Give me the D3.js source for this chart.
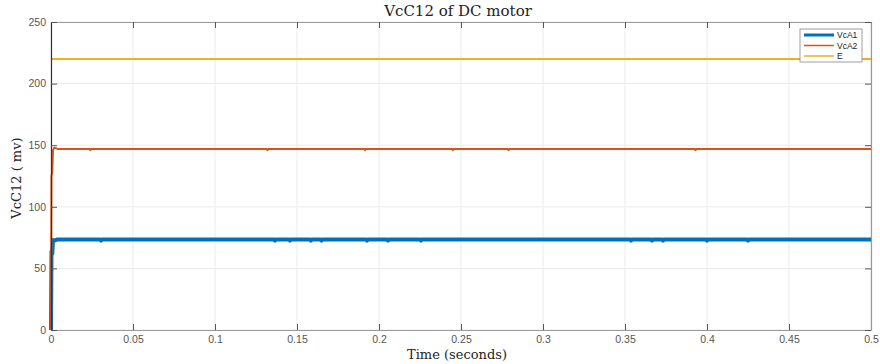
<!DOCTYPE html>
<html><head><meta charset="utf-8">
<script src="https://cdn.jsdelivr.net/npm/d3@7"></script>
<style>body{margin:0;background:#fff}svg{display:block}</style>
</head><body>
<script>
// ---- data ----
const timeA1 = [0, 0.0003, 0.0008, 0.0012, 0.002, 0.004, 0.0300, 0.0305, 0.0310, 0.1361, 0.1366, 0.1371, 0.1452, 0.1457, 0.1462, 0.1580, 0.1585, 0.1590, 0.1645, 0.1650, 0.1655, 0.1922, 0.1927, 0.1932, 0.2050, 0.2055, 0.2060, 0.2251, 0.2256, 0.2261, 0.3532, 0.3537, 0.3542, 0.3660, 0.3665, 0.3670, 0.3727, 0.3732, 0.3737, 0.3995, 0.4000, 0.4005, 0.4245, 0.4250, 0.4255, 0.5];
const vcA1  = [0, 64, 62, 73, 72.5, 73.5, 73.5, 72.5, 73.5, 73.5, 72.5, 73.5, 73.5, 72.5, 73.5, 73.5, 72.5, 73.5, 73.5, 72.5, 73.5, 73.5, 72.5, 73.5, 73.5, 72.5, 73.5, 73.5, 72.5, 73.5, 73.5, 72.5, 73.5, 73.5, 72.5, 73.5, 73.5, 72.5, 73.5, 73.5, 72.5, 73.5, 73.5, 72.5, 73.5, 73.5];
const timeA2 = [0, 0.0003, 0.0008, 0.0012, 0.002, 0.004, 0.0235, 0.0240, 0.0245, 0.1315, 0.1320, 0.1325, 0.1910, 0.1915, 0.1920, 0.2445, 0.2450, 0.2455, 0.2785, 0.2790, 0.2795, 0.3925, 0.3930, 0.3935, 0.5];
const vcA2  = [0, 125, 128, 146, 148, 147, 147, 146, 147, 147, 146, 147, 147, 146, 147, 147, 146, 147, 147, 146, 147, 147, 146, 147, 147];
const timeE = [0, 0.5];
const valE  = [220, 220];
const xTicks = [0, 0.05, 0.1, 0.15, 0.2, 0.25, 0.3, 0.35, 0.4, 0.45, 0.5];
const yTicks = [0, 50, 100, 150, 200, 250];
const seriesNames = ["VcA1", "VcA2", "E"];
const seriesColors = ["#0072BD", "#D95319", "#EDB120"];

const W = 880, H = 364;
const m = {left: 51, right: 9, top: 22, bottom: 34};
const svg = d3.select("body").append("svg").attr("width", W).attr("height", H);
const x = d3.scaleLinear().domain([0, 0.5]).range([m.left, W - m.right]);
const y = d3.scaleLinear().domain([0, 250]).range([H - m.bottom, m.top]);

// grid
const g = svg.append("g");
g.selectAll(".gx").data(xTicks).enter().append("line")
  .attr("x1", d => x(d)).attr("x2", d => x(d)).attr("y1", y(0)).attr("y2", y(250))
  .attr("stroke", "#ebebeb").attr("stroke-width", 1);
g.selectAll(".gy").data(yTicks).enter().append("line")
  .attr("y1", d => y(d)).attr("y2", d => y(d)).attr("x1", x(0)).attr("x2", x(0.5))
  .attr("stroke", "#ebebeb").attr("stroke-width", 1);

// series (drawn in legend order, later on top)
const series = [
  {t: timeA1, v: vcA1, w: 4},
  {t: timeA2, v: vcA2, w: 2},
  {t: timeE, v: valE, w: 2}
];
const line = d3.line().x(d => x(d[0])).y(d => y(d[1]));
series.forEach((s, i) => {
  svg.append("path").datum(s.t.map((t, k) => [t, s.v[k]]))
    .attr("d", line).attr("fill", "none")
    .attr("stroke", seriesColors[i]).attr("stroke-width", s.w)
    .attr("stroke-linejoin", "round");
});

// axes
const axisColor = "#555";
function styleAxis(sel) {
  sel.selectAll("path").attr("stroke", "#999").attr("stroke-width", 1.2);
  sel.selectAll("line").attr("stroke", "#555");
  sel.selectAll("text").attr("fill", axisColor)
    .style("font-family", "'Liberation Sans', Arial, sans-serif").style("font-size", "10.5px");
}
const xb = svg.append("g").attr("transform", `translate(0,${y(0)})`)
  .call(d3.axisBottom(x).tickValues(xTicks).tickFormat(d3.format("~g")).tickSizeInner(-6).tickSizeOuter(0).tickPadding(6));
styleAxis(xb);
const xt = svg.append("g").attr("transform", `translate(0,${y(250)})`)
  .call(d3.axisTop(x).tickValues(xTicks).tickFormat("").tickSizeInner(-6).tickSizeOuter(0));
styleAxis(xt);
const yl = svg.append("g").attr("transform", `translate(${x(0)},0)`)
  .call(d3.axisLeft(y).tickValues(yTicks).tickSizeInner(-6).tickSizeOuter(0).tickPadding(5));
styleAxis(yl);
yl.select("path").attr("stroke", "#333");
const yr = svg.append("g").attr("transform", `translate(${x(0.5)},0)`)
  .call(d3.axisRight(y).tickValues(yTicks).tickFormat("").tickSizeInner(-6).tickSizeOuter(0));
styleAxis(yr);

// titles
const serif = "'DejaVu Serif', 'Liberation Serif', serif";
svg.append("text").attr("x", (x(0) + x(0.5)) / 2 - 3).attr("y", 16).attr("text-anchor", "middle")
  .style("font-family", serif).style("font-size", "15px").attr("fill", "#222").text("VcC12 of DC motor");
svg.append("text").attr("x", (x(0) + x(0.5)) / 2 - 4).attr("y", 359).attr("text-anchor", "middle")
  .style("font-family", serif).style("font-size", "13px").attr("fill", "#222").text("Time (seconds)");
svg.append("text").attr("transform", `translate(21,178) rotate(-90)`)
  .attr("text-anchor", "middle")
  .style("font-family", serif).style("font-size", "13px").attr("fill", "#222").text("VcC12 ( mv)");

// legend
const lg = svg.append("g").attr("transform", "translate(800,29)");
lg.append("rect").attr("width", 62).attr("height", 33).attr("fill", "#fff").attr("stroke", "#888").attr("stroke-width", 0.8);
seriesNames.forEach((n, i) => {
  const yy = 6 + i * 10.5;
  lg.append("line").attr("x1", 4).attr("x2", 34).attr("y1", yy).attr("y2", yy)
    .attr("stroke", seriesColors[i]).attr("stroke-width", series[i].w === 4 ? 3 : 1.5);
  lg.append("text").attr("x", 37).attr("y", yy + 3).text(n)
    .style("font-family", "'Liberation Sans', Arial, sans-serif").style("font-size", "8.5px").attr("fill", "#222");
});
</script>
</body></html>
